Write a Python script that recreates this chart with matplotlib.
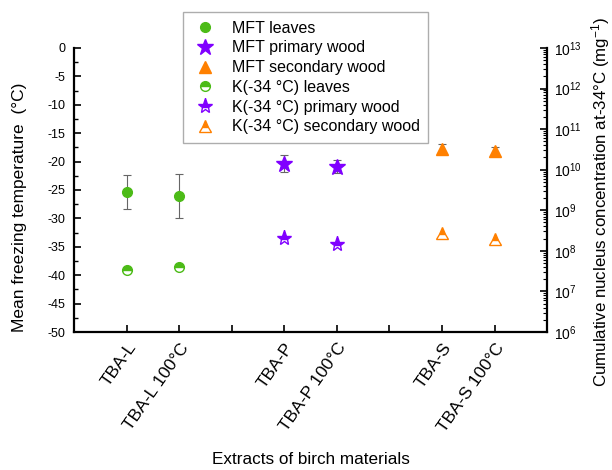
import matplotlib
matplotlib.use("Agg")
import matplotlib.pyplot as plt
from matplotlib.ticker import MultipleLocator, LogLocator, NullFormatter
from matplotlib.lines import Line2D

plt.rcParams['font.family'] = ['Liberation Sans', 'DejaVu Sans']
plt.rcParams['mathtext.fontset'] = 'custom'
plt.rcParams['mathtext.rm'] = 'Liberation Sans'
plt.rcParams['mathtext.it'] = 'Liberation Sans:italic'
plt.rcParams['mathtext.bf'] = 'Liberation Sans:bold'
plt.rcParams['axes.unicode_minus'] = False

# ---- data ----
categories = ["TBA-L", "TBA-L 100°C", "", "TBA-P", "TBA-P 100°C", "", "TBA-S", "TBA-S 100°C"]
cat_pos = [1, 2, 3, 4, 5, 6, 7, 8]

leaves_pos = [1, 2]
primary_pos = [4, 5]
secondary_pos = [7, 8]

mft_leaves = [-25.4, -26.1]
mft_leaves_err = [3.0, 3.9]
mft_primary = [-20.4, -20.9]
mft_primary_err = [1.5, 1.2]
mft_secondary = [-17.8, -18.2]
mft_secondary_err = [0.9, 0.8]

k_leaves = [3.4e7, 4.0e7]
k_primary = [2.1e8, 1.5e8]
k_secondary = [2.7e8, 2.0e8]

green = '#4cbb17'
purple = '#8000ff'
orange = '#ff8000'
errc = '#666666'

fig = plt.figure(figsize=(6.12, 4.70), dpi=100)
ax = fig.add_axes([0.121, 0.2936, 0.773, 0.6044])
ax2 = ax.twinx()

# MFT series
ax.errorbar(leaves_pos, mft_leaves, yerr=mft_leaves_err, fmt='o', color=green, ms=7,
            ecolor=errc, elinewidth=0.8, capsize=3, capthick=0.8, zorder=3)
ax.errorbar(primary_pos, mft_primary, yerr=mft_primary_err, fmt='*', color=purple, ms=12,
            ecolor=errc, elinewidth=0.8, capsize=3, capthick=0.8, zorder=3)
ax.errorbar(secondary_pos, mft_secondary, yerr=mft_secondary_err, fmt='^', color=orange, ms=8,
            ecolor=errc, elinewidth=0.8, capsize=3, capthick=0.8, zorder=3)

# K series (half filled)
ax2.plot(leaves_pos, k_leaves, 'o', ms=7, mfc=green, mec=green, mfcalt='white', fillstyle='top', mew=1)
ax2.plot(primary_pos, k_primary, '*', ms=11, mfc=purple, mec=purple, mfcalt='white', fillstyle='top', mew=1)
ax2.plot(secondary_pos, k_secondary, '^', ms=8, mfc=orange, mec=orange, mfcalt='white', fillstyle='top', mew=1)

ax.set_xlim(0, 9)
ax.set_ylim(-50, 0)
ax.yaxis.set_major_locator(MultipleLocator(5))
ax.yaxis.set_minor_locator(MultipleLocator(2.5))
ax.set_xticks(cat_pos)
ax.set_xticklabels(categories, rotation=55, ha='right', rotation_mode='anchor', fontsize=12.5)

ax2.set_yscale('log')
ax2.set_ylim(1e6, 1e13)
ax2.yaxis.set_major_locator(LogLocator(base=10, numticks=20))
ax2.yaxis.set_minor_locator(LogLocator(base=10, subs=range(2, 10), numticks=100))
ax2.yaxis.set_minor_formatter(NullFormatter())

for a in (ax, ax2):
    a.spines['top'].set_visible(False)
    for s in ('left', 'right', 'bottom'):
        a.spines[s].set_linewidth(1.6)
ax.spines['right'].set_visible(False)
ax2.spines['left'].set_visible(False)
ax2.spines['bottom'].set_visible(False)

ax.tick_params(axis='y', which='major', direction='in', length=5, width=1.2, labelsize=9, pad=6)
ax.tick_params(axis='y', which='minor', direction='in', length=3, width=1.0)
ax.tick_params(axis='x', which='major', direction='in', length=5, width=1.2, pad=6)
ax2.tick_params(axis='y', which='major', direction='in', length=5, width=1.2, labelsize=10, pad=5)
ax2.tick_params(axis='y', which='minor', direction='in', length=3, width=0.8)

ax.set_ylabel('Mean freezing temperature  (°C)', fontsize=12.5)
ax.yaxis.set_label_coords(-0.099, 0.44)
ax.set_xlabel('Extracts of birch materials', fontsize=12.3)
ax.xaxis.set_label_coords(0.5, -0.423)
ax2.set_ylabel('Cumulative nucleus concentration at-34°C (mg$^{-1}$)', fontsize=12.2,
               rotation=90, va='center')
ax2.yaxis.set_label_coords(1.113, 0.458)

handles = [
    Line2D([], [], ls='none', marker='o', ms=7, color=green),
    Line2D([], [], ls='none', marker='*', ms=12, color=purple),
    Line2D([], [], ls='none', marker='^', ms=8, color=orange),
    Line2D([], [], ls='none', marker='o', ms=7, mfc=green, mec=green, mfcalt='white', fillstyle='top'),
    Line2D([], [], ls='none', marker='*', ms=11, mfc=purple, mec=purple, mfcalt='white', fillstyle='top'),
    Line2D([], [], ls='none', marker='^', ms=8, mfc=orange, mec=orange, mfcalt='white', fillstyle='top'),
]
labels = ['MFT leaves', 'MFT primary wood', 'MFT secondary wood',
          'K(-34 °C) leaves', 'K(-34 °C) primary wood', 'K(-34 °C) secondary wood']
leg = fig.legend(handles, labels, loc='upper left', bbox_to_anchor=(0.299, 0.975),
                 borderaxespad=0.0,
                 fontsize=11.5, frameon=True, fancybox=False, edgecolor='#999999',
                 labelspacing=0.3, handletextpad=0.9, borderpad=0.55, handlelength=1.6)
leg.get_frame().set_linewidth(1.0)

fig.savefig('out.png', dpi=100)
